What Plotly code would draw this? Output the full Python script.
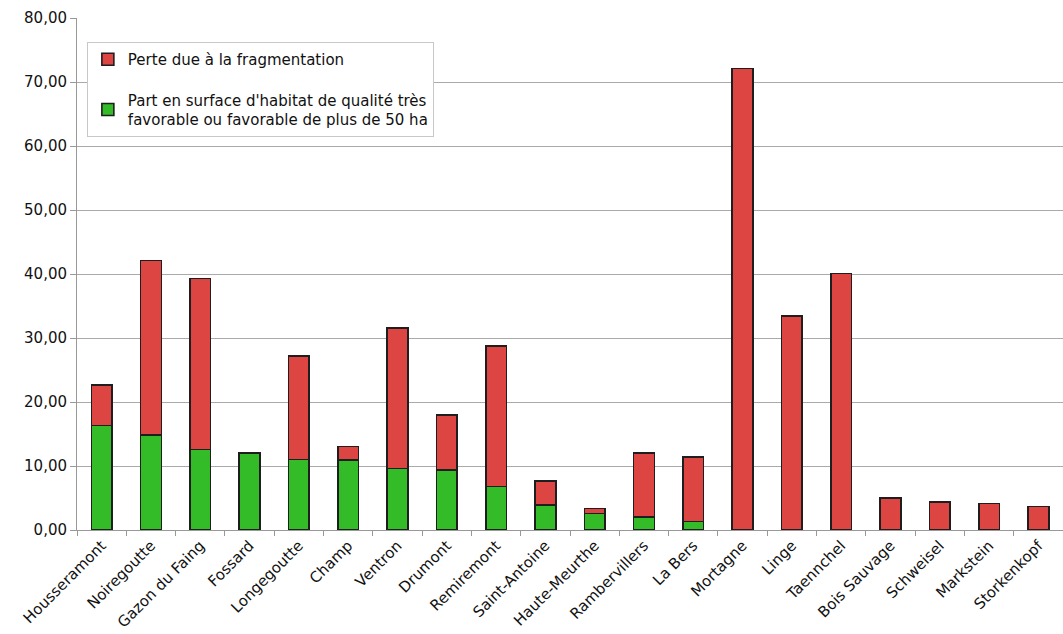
import plotly.graph_objects as go

sites = ["Housseramont", "Noiregoutte", "Gazon du Faing", "Fossard", "Longegoutte",
         "Champ", "Ventron", "Drumont", "Remiremont", "Saint-Antoine",
         "Haute-Meurthe", "Rambervillers", "La Bers", "Mortagne", "Linge",
         "Taennchel", "Bois Sauvage", "Schweisel", "Markstein", "Storkenkopf"]

# Share of very favourable / favourable habitat patches larger than 50 ha
part_favorable = [16.3, 14.8, 12.6, 11.95, 11.0, 10.9, 9.6, 9.4, 6.8, 3.9,
                  2.6, 2.0, 1.35, 0, 0, 0, 0, 0, 0, 0]
# Total height of each bar (favourable share + fragmentation loss)
total = [22.7, 42.1, 39.3, 12.1, 27.2, 13.05, 31.55, 18.0, 28.75, 7.7,
         3.35, 12.0, 11.45, 72.1, 33.4, 40.05, 5.0, 4.4, 4.15, 3.65]
perte_fragmentation = [round(t - p, 2) for t, p in zip(total, part_favorable)]

y_ticks = [0, 10, 20, 30, 40, 50, 60, 70, 80]

RED = "#DD4543"
GREEN = "#33BB28"
OUTLINE = "#1e1e1e"
FONT = "DejaVu Sans, Verdana, sans-serif"

fig = go.Figure()
fig.add_trace(go.Bar(
    x=sites, y=part_favorable,
    name="Part en surface d'habitat de qualité très<br>favorable ou favorable de plus de 50 ha",
    marker=dict(color=GREEN, line=dict(color=OUTLINE, width=1.6)),
    legendgroup="g", legendrank=2,
))
fig.add_trace(go.Bar(
    x=sites, y=perte_fragmentation,
    name="Perte due à la fragmentation",
    marker=dict(color=RED, line=dict(color=OUTLINE, width=1.6)),
    legendgroup="r", legendrank=1,
))

fig.update_layout(
    barmode="stack",
    bargap=0.58,
    width=1063, height=634,
    margin=dict(l=77, r=0, t=18, b=104),
    paper_bgcolor="white",
    plot_bgcolor="white",
    separators=", ",
    font=dict(family=FONT, size=15, color="#111"),
    showlegend=True,
    legend=dict(
        x=0.01, y=0.953, xanchor="left", yanchor="top",
        traceorder="grouped",
        tracegroupgap=18,
        bgcolor="white",
        bordercolor="#c8c8c8", borderwidth=1,
        font=dict(family=FONT, size=15, color="#111"),
        itemwidth=30,
    ),
    xaxis=dict(
        tickangle=-45,
        tickson="boundaries",
        ticks="outside", ticklen=5, tickcolor="#999",
        showline=True, linecolor="#999", linewidth=1,
        showgrid=False,
        tickfont=dict(family=FONT, size=15, color="#111"),
    ),
    yaxis=dict(
        range=[0, 80],
        tickvals=y_ticks,
        tickformat=".2f",
        ticks="outside", ticklen=6, tickcolor="#999",
        showline=True, linecolor="#999", linewidth=1,
        showgrid=True, gridcolor="#aaaaaa", gridwidth=1,
        zeroline=False,
        tickfont=dict(family=FONT, size=15, color="#111"),
    ),
)

fig.write_html("out.html")
